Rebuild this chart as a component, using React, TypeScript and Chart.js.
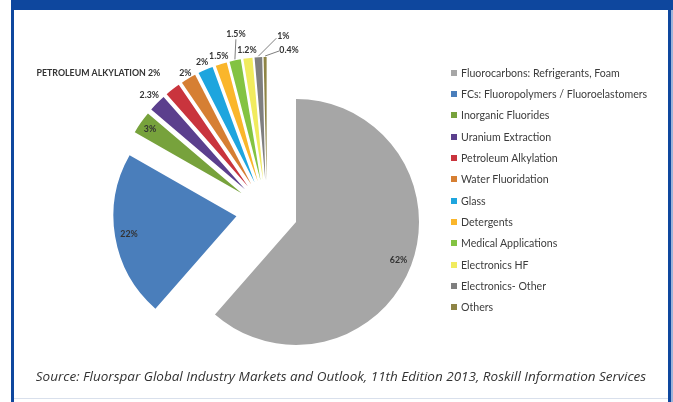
import React, { useEffect, useRef } from "react";
import { Chart, registerables } from "chart.js";

Chart.register(...registerables);

// ---- data ----
const categories = [
  "Fluorocarbons: Refrigerants, Foam",
  "FCs: Fluoropolymers / Fluoroelastomers",
  "Inorganic Fluorides",
  "Uranium Extraction",
  "Petroleum Alkylation",
  "Water Fluoridation",
  "Glass",
  "Detergents",
  "Medical Applications",
  "Electronics HF",
  "Electronics- Other",
  "Others",
];
const shares = [62, 22, 3, 2.3, 2, 2, 2, 1.5, 1.5, 1.2, 1, 0.4];
const valueLabels = ["62%", "22%", "3%", "2.3%", "PETROLEUM ALKYLATION 2%", "2%", "2%", "1.5%", "1.5%", "1.2%", "1%", "0.4%"];
const sourceText =
  "Source: Fluorspar Global Industry Markets and Outlook, 11th Edition 2013, Roskill Information Services";

// ---- styles ----
const colors = [
  "#A6A6A6",
  "#4A7EBB",
  "#77A23C",
  "#5B3F8D",
  "#C9343D",
  "#D67F33",
  "#1EA5DE",
  "#FAB62B",
  "#83C342",
  "#F1EB5E",
  "#7F7F7F",
  "#8E8445",
];

type Lay = { mode: "in" | "out" | "lead"; r?: number; gap?: number; align?: CanvasTextAlign; dx?: number; dy?: number; lx?: number; ly?: number };
const labelLayout: Lay[] = [
  { mode: "in", r: 0.89 },
  { mode: "in", r: 0.885 },
  { mode: "in", r: 0.91 },
  { mode: "out", gap: 11 },
  { mode: "out", gap: 20, align: "right" },
  { mode: "out", gap: 6 },
  { mode: "out", gap: 8.5 },
  { mode: "out", gap: 8 },
  { mode: "lead", dx: 1, dy: -25, lx: 0, ly: 5 },
  { mode: "out", gap: 8 },
  { mode: "lead", dx: 25, dy: -20, lx: -7, ly: 2 },
  { mode: "lead", dx: 24, dy: -6, lx: -10, ly: 1 },
];

const EXPLODE = 31;
const RADIUS = 123;

const explodePlugin = {
  id: "explodeLabels",
  beforeDatasetDraw(chart: any, args: any) {
    const ctx = chart.ctx as CanvasRenderingContext2D;
    args.meta.data.forEach((arc: any) => {
      const p = arc.getProps(["startAngle", "endAngle"], true);
      const mid = (p.startAngle + p.endAngle) / 2;
      ctx.save();
      ctx.translate(Math.cos(mid) * EXPLODE, Math.sin(mid) * EXPLODE);
      arc.draw(ctx, chart.chartArea);
      ctx.restore();
    });
    return false;
  },
  afterDatasetsDraw(chart: any) {
    const ctx = chart.ctx as CanvasRenderingContext2D;
    const meta = chart.getDatasetMeta(0);
    ctx.save();
    ctx.font = "bold 8.8px Lato";
    ctx.fillStyle = "#333333";
    ctx.textBaseline = "middle";
    meta.data.forEach((arc: any, i: number) => {
      const { x, y, startAngle, endAngle, outerRadius } = arc.getProps(
        ["x", "y", "startAngle", "endAngle", "outerRadius"],
        true
      );
      const mid = (startAngle + endAngle) / 2;
      const ux = Math.cos(mid);
      const uy = Math.sin(mid);
      const vx = x + ux * EXPLODE;
      const vy = y + uy * EXPLODE;
      const L = labelLayout[i];
      let tx = 0;
      let ty = 0;
      if (L.mode === "in") {
        tx = vx + ux * outerRadius * (L.r || 0.9);
        ty = vy + uy * outerRadius * (L.r || 0.9);
      } else if (L.mode === "out") {
        tx = vx + ux * (outerRadius + (L.gap || 8));
        ty = vy + uy * (outerRadius + (L.gap || 8));
      } else {
        const ex = vx + ux * (outerRadius + 1);
        const ey = vy + uy * (outerRadius + 1);
        tx = ex + (L.dx || 0);
        ty = ey + (L.dy || 0);
        ctx.beginPath();
        ctx.strokeStyle = "#6f6f6f";
        ctx.lineWidth = 0.9;
        ctx.moveTo(ex, ey);
        ctx.lineTo(tx + (L.lx || 0), ty + (L.ly || 0));
        ctx.stroke();
      }
      ctx.textAlign = L.align || "center";
      ctx.fillText(valueLabels[i], tx, ty);
    });
    ctx.restore();
  },
};

export default function App() {
  const ref = useRef<HTMLCanvasElement | null>(null);

  useEffect(() => {
    if (!ref.current) return;
    const chart = new Chart(ref.current, {
      type: "pie",
      data: {
        labels: categories,
        datasets: [
          {
            data: shares,
            backgroundColor: colors,
            borderWidth: 0,
            radius: RADIUS,
          } as any,
        ],
      },
      options: {
        responsive: false,
        animation: false,
        events: [],
        layout: { padding: { left: 0, right: 139, top: 20, bottom: 0 } },
        plugins: {
          legend: { display: false },
          tooltip: { enabled: false },
        },
      },
      plugins: [explodePlugin as any],
    });
    return () => chart.destroy();
  }, []);

  return (
    <div
      style={{
        position: "fixed",
        left: 0,
        top: 0,
        width: 673,
        height: 402,
        background: "#ffffff",
        overflow: "hidden",
      }}
    >
      {/* frame */}
      <div style={{ position: "absolute", left: 11, top: 0, width: 662, height: 10, background: "#0E479E" }} />
      <div style={{ position: "absolute", left: 11, top: 0, width: 3, height: 402, background: "#0E479E" }} />
      <div style={{ position: "absolute", left: 668, top: 0, width: 3, height: 402, background: "#0E479E" }} />
      <div style={{ position: "absolute", left: 671, top: 10, width: 2, height: 392, background: "#9DB3DA" }} />
      <div style={{ position: "absolute", left: 14, top: 398, width: 654, height: 1, background: "#D9E0EC" }} />
      <canvas
        ref={ref}
        width={673}
        height={402}
        style={{ position: "absolute", left: 0, top: 0, width: 673, height: 402 }}
      />
      {/* legend */}
      {categories.map((c, i) => (
        <div
          key={c}
          style={{
            position: "absolute",
            left: 451,
            top: 72.7 + i * 21.33 - 6,
            height: 12,
            display: "flex",
            alignItems: "center",
            whiteSpace: "nowrap",
            fontFamily: "Lato",
            fontSize: 10.6,
            color: "#3c3c3c",
          }}
        >
          <span style={{ display: "inline-block", width: 6, height: 6, background: colors[i], marginRight: 4 }} />
          <span>{c}</span>
        </div>
      ))}
      <div
        style={{
          position: "absolute",
          left: 14,
          width: 654,
          top: 367,
          textAlign: "center",
          fontFamily: "'Open Sans'",
          fontStyle: "italic",
          fontSize: 13.5,
          color: "#333333",
          whiteSpace: "nowrap",
        }}
      >
        {sourceText}
      </div>
    </div>
  );
}
